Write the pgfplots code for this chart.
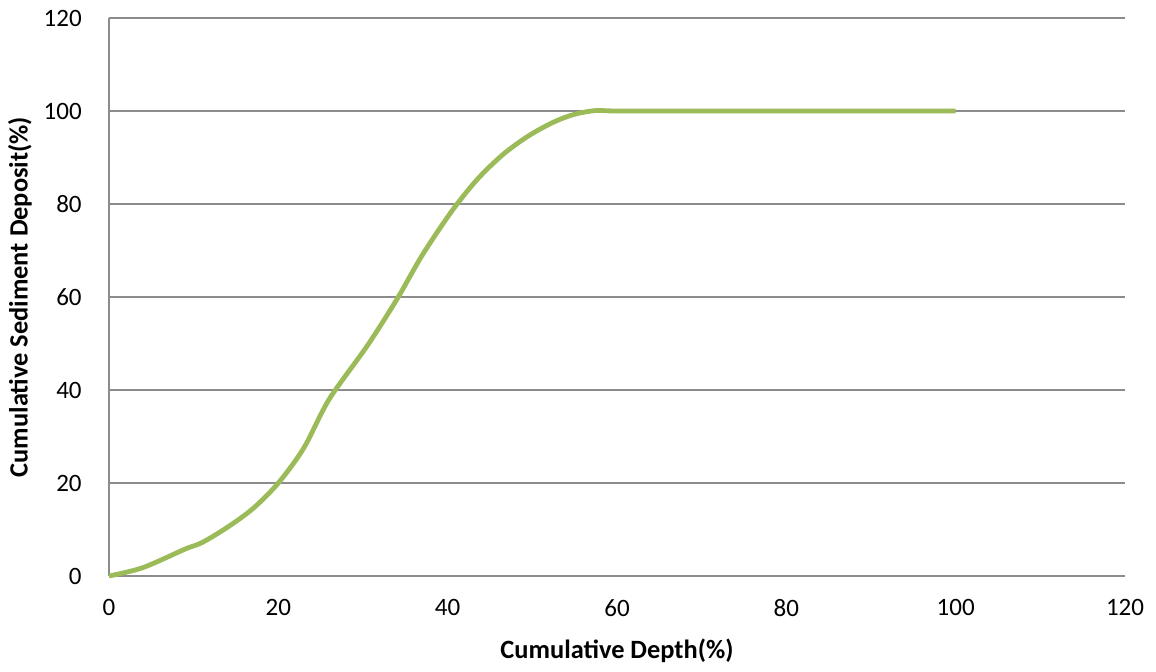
\documentclass[border=0pt]{standalone}
\usepackage{fontspec}
\setmainfont{Carlito}
\usepackage{pgfplots}
\pgfplotsset{compat=1.18}
\definecolor{linegreen}{HTML}{9BBB59}
\definecolor{gridgray}{HTML}{8C8C8C}
\begin{document}
\begin{tikzpicture}
\useasboundingbox (-54.5pt,-47.5pt) rectangle (523.5pt,288pt);
\begin{axis}[
  scale only axis,
  width=508pt, height=279pt,
  at={(0,0)}, anchor=south west,
  xmin=0, xmax=120, ymin=0, ymax=120,
  xtick={0,20,...,120}, ytick={0,20,...,120},
  axis x line=bottom, axis y line=left,
  axis line style={gridgray, line width=0.75pt, -},
  tick style={draw=none},
  ymajorgrids,
  grid style={gridgray, line width=0.75pt},
  /pgf/number format/assume math mode=true,
  tick label style={font=\fontsize{12.5}{14}\selectfont},
  yticklabel style={xshift=-8pt},
  xticklabel style={yshift=-6pt},
  xlabel={\textbf{Cumulative Depth(\%)}},
  ylabel={\textbf{Cumulative Sediment Deposit(\%)}},
  label style={font=\fontsize{13.2}{15}\selectfont},
  xlabel style={at={(axis description cs:0.5,-0.1344)}, anchor=center},
  ylabel style={at={(axis description cs:-0.0876,0.5)}, anchor=center},
  clip=false,
]
\addplot[linegreen, line width=2.4pt, smooth, tension=0.5] coordinates {
 (0,0) (4,1.8) (9,5.8) (11,7.2) (14,10.5) (17,14.5) (20,20) (23,27.5)
 (26,38) (30.5,49.5) (34,59.5) (37,69) (40.5,78.5) (43.5,85.3) (46.5,90.6)
 (49.5,94.6) (52.5,97.6) (55,99.3) (57.5,100.1) (60,100) (70,100) (80,100) (90,100) (100,100)
};
\end{axis}
\end{tikzpicture}
\end{document}
